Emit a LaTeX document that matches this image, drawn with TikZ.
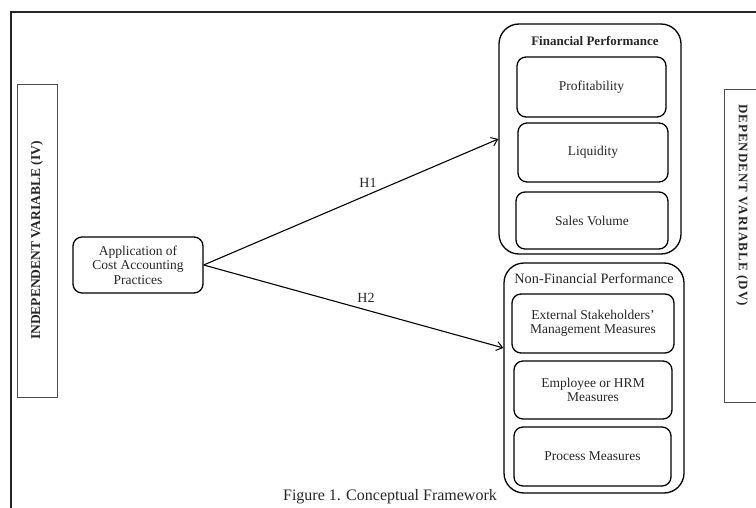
\documentclass[tikz,border=0pt]{standalone}
\usepackage{fontspec}
\setmainfont{Liberation Serif}
\usetikzlibrary{arrows.meta,calc}
\begin{document}
\begin{tikzpicture}[x=1pt,y=-1pt,
  txt/.style={font=\fontsize{13.5}{14.5}\selectfont, text=black!85, align=center},
  inbox/.style={draw, line width=1.3pt, rounded corners=9pt, inner sep=0pt, txt},
  grpbox/.style={draw, line width=1.3pt, rounded corners=20pt, inner sep=0pt},
  varbox/.style={draw=black!70, line width=0.9pt, inner sep=0pt},
  link/.style={line width=1.1pt, -{Straight Barb[length=6pt,width=9pt,line width=1pt]}},
  hlab/.style={font=\fontsize{14}{16}\selectfont, text=black!85}
]
\useasboundingbox (0,0) rectangle (756,508);
% frame
\coordinate (frTR) at (757,12);
\coordinate (frTL) at (11,12);
\coordinate (frBL) at (11,509);
\draw[line width=1.6pt, black!85] (frTR) -- (frTL) -- (frBL);

% variable boxes
\node[varbox, minimum width=40pt, minimum height=313pt] (IV) at (37,240.5) {};
\node[rotate=90, font=\bfseries\fontsize{13.5}{15}\selectfont, text=black!85] (IVt) at (IV.center) {INDEPENDENT VARIABLE (IV)};
\node[varbox, minimum width=40pt, minimum height=313pt] (DV) at (744,245.5) {};
\node[rotate=-90, font=\bfseries\fontsize{13}{15}\selectfont\addfontfeatures{LetterSpace=8}, text=black!85] (DVt) at (742,205) {DEPENDENT VARIABLE (DV)};

% independent
\node[inbox, minimum width=130pt, minimum height=56pt] (App) at (138,265) {Application of\\Cost Accounting\\Practices};

% financial group
\node[grpbox, minimum width=182pt, minimum height=230pt] (Fin) at (590,139) {};
\node[font=\bfseries\fontsize{13}{15}\selectfont, text=black!85] (FinT) at (595,41) {Financial Performance};
\node[inbox, minimum width=149pt, minimum height=60pt] (Prof) at (591.5,87) {Profitability};
\node[inbox, minimum width=150pt, minimum height=59pt] (Liq) at (593,152.5) {Liquidity};
\node[inbox, minimum width=152pt, minimum height=57pt] (Sales) at (592,220.5) {Sales Volume};

% non-financial group
\node[grpbox, minimum width=180pt, minimum height=230pt] (NFin) at (594,378) {};
\node[txt, font=\fontsize{14.3}{16}\selectfont] (NFinT) at (594,279) {Non-Financial Performance};
\node[inbox, minimum width=162pt, minimum height=59pt] (Ext) at (593,323.5) {External Stakeholders'\\Management Measures};
\node[inbox, minimum width=158pt, minimum height=58pt] (Emp) at (593,390) {Employee or HRM\\Measures};
\node[inbox, minimum width=157pt, minimum height=59pt] (Proc) at (592.5,456.5) {Process Measures};

% connectors
\coordinate (h1end) at (Fin.west);
\coordinate (h2end) at ($(NFin.north west)!0.37!(NFin.south west)$);
\draw[link] (App.east) -- (h1end);
\draw[link] (App.east) -- (h2end);
\node[hlab] (H1) at (368,183) {H1};
\node[hlab] (H2) at (366,298) {H2};

% caption
\node[font=\fontsize{16}{18}\selectfont, text=black!85] (cap) at (390,497) {Figure 1. Conceptual Framework};
\end{tikzpicture}
\end{document}
